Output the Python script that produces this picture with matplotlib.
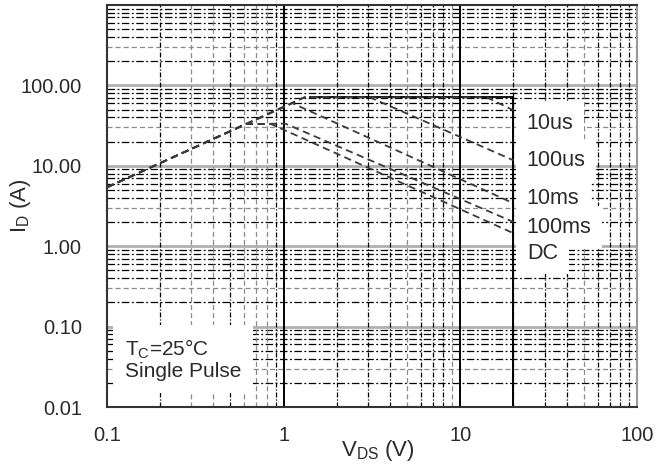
import matplotlib.pyplot as plt
import numpy as np

plt.rcParams['font.family'] = ['Liberation Sans', 'DejaVu Sans']
plt.rcParams['mathtext.default'] = 'regular'

# SOA limit curves, V_DS (V) vs I_D (A)
v_10us = [0.1, 1.31, 14.1, 20]
i_10us = [5.4, 71, 71, 49]
v_100us = [0.1, 1.31, 3.08, 20]
i_100us = [5.4, 71, 71, 11.7]
v_10ms = [0.1, 1.12, 20]
i_10ms = [5.4, 60, 3.42]
v_100ms = [0.1, 0.61, 1.02, 20]
i_100ms = [5.4, 33, 33.5, 2.0]
v_dc = [0.1, 0.61, 0.85, 20]
i_dc = [5.4, 33, 33, 1.45]

curve_names = ['10us', '100us', '10ms', '100ms', 'DC']
name_levels = [33.7, 11.7, 3.94, 1.72, 0.82]

v_max = 20      # drain-source voltage limit
i_max = 71      # drain current limit
v_imax = 1.41   # where the current limit starts

x_ticks = [0.1, 1, 10, 100]
x_ticklabels = ['0.1', '1', '10', '100']
y_ticks = [0.01, 0.1, 1, 10, 100]
y_ticklabels = ['0.01', '0.10', '1.00', '10.00', '100.00']

txt = '#2a2a2a'

fig = plt.figure(figsize=(6.62, 4.70), dpi=100)
ax = fig.add_axes([0.1616, 0.134, 0.8006, 0.8554])
ax.set_xscale('log')
ax.set_yscale('log')
ax.set_xlim(0.1, 100)
ax.set_ylim(0.01, 1000)

dashdot = (0, (6, 2, 1.5, 2))
graydash = (0, (4, 2.5))

# horizontal grid: decades in light gray, minors dash-dot, the 3's gray dashed
for dec in [0.01, 0.1, 1, 10, 100]:
    if dec > 0.01:
        ax.axhline(dec, color='#b0b0b0', lw=2.0, zorder=1)
    for m in range(2, 10):
        if m == 3:
            ax.axhline(dec * m, color='#8a8a8a', lw=0.9, ls=graydash, zorder=1)
        else:
            ax.axhline(dec * m, color='black', lw=0.9, ls=dashdot, zorder=1)

# vertical grid
gray_cols = {0.1: [3, 4, 6, 7, 8], 1: [5, 9], 10: [5]}
for dec in [0.1, 1, 10]:
    if dec > 0.1:
        ax.axvline(dec, color='black', lw=1.4, zorder=1)
    for m in range(2, 10):
        if m in gray_cols[dec]:
            ax.axvline(dec * m, color='#8a8a8a', lw=0.9, ls=graydash, zorder=1)
        else:
            ax.axvline(dec * m, color='black', lw=0.9, ls=(0, (4, 1.5, 1, 1.5)), zorder=1)

# operating limits
ax.plot([v_imax, v_max], [i_max, i_max], color='black', lw=1.3, zorder=2)
ax.plot([v_max, v_max], [0.01, i_max], color='black', lw=1.4, zorder=2)

for v, i in [(v_10us, i_10us), (v_100us, i_100us), (v_10ms, i_10ms),
             (v_100ms, i_100ms), (v_dc, i_dc)]:
    ax.plot(v, i, color='#3a3a3a', lw=1.3, ls=(0, (4, 2.5)), zorder=3)

# white backing first, then the names on top so boxes don't hide each other
for name, lev in zip(curve_names, name_levels):
    ax.text(23.8, lev, name, fontsize=15.5, color='white', ha='left', va='center',
            zorder=4, bbox=dict(boxstyle='square,pad=0.5', fc='white', ec='none'))
for name, lev in zip(curve_names, name_levels):
    ax.text(23.8, lev, name, fontsize=15.5, color=txt, ha='left', va='center',
            zorder=5)

ax.text(0.1264, 0.039, 'T$_C$=25°C\nSingle Pulse', fontsize=15, color=txt,
        ha='left', va='center', linespacing=1.1, zorder=4,
        bbox=dict(boxstyle='square,pad=0.55', fc='white', ec='none'))

ax.set_xticks(x_ticks)
ax.set_xticklabels(x_ticklabels)
ax.set_yticks(y_ticks)
ax.set_yticklabels(y_ticklabels)
ax.xaxis.set_minor_locator(plt.NullLocator())
ax.yaxis.set_minor_locator(plt.NullLocator())
ax.tick_params(length=0, labelsize=14.5, labelcolor=txt)
ax.tick_params(axis='x', pad=14)
ax.tick_params(axis='y', pad=18)

# axis titles placed by hand
ax.text(0.511, -0.076, 'V$_{DS}$ (V)', transform=ax.transAxes, fontsize=16,
        color=txt, ha='center', va='top')
ax.text(-0.163, 0.5, 'I$_D$ (A)', transform=ax.transAxes, fontsize=16,
        color=txt, ha='center', va='center', rotation=90)

for s in ['left', 'bottom', 'top']:
    ax.spines[s].set_color('#333333')
    ax.spines[s].set_linewidth(1.5)
ax.spines['right'].set_color('#999999')
ax.spines['right'].set_linewidth(1.5)

fig.savefig('out.png', dpi=100)
